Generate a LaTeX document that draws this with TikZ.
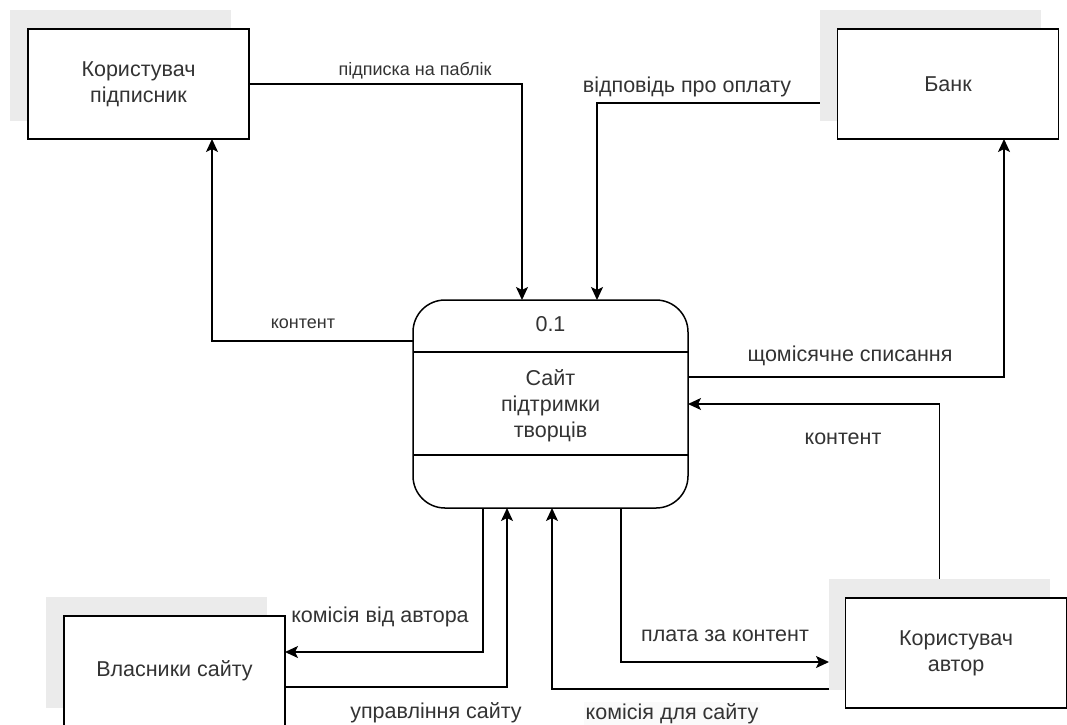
\documentclass[tikz,border=0pt]{standalone}
\usepackage{fontspec}
\setmainfont{Liberation Sans}
\usetikzlibrary{arrows.meta}
\definecolor{shade}{HTML}{EBEBEB}
\definecolor{txt}{HTML}{333333}
\definecolor{lblbg}{HTML}{FAFAFA}
\begin{document}
\begin{tikzpicture}[x=1pt,y=-1pt,
  every node/.style={inner sep=0pt,outer sep=0pt,text=txt},
  ent/.style={draw=black,line width=1.5pt,fill=white,minimum width=221pt,minimum height=110pt,align=center,font=\fontsize{21.5}{26}\selectfont},
  shd/.style={fill=shade,minimum width=221pt,minimum height=111pt},
  proc/.style={draw=black,line width=1.5pt,rounded corners=32pt,minimum width=275pt,minimum height=208pt,fill=white},
  flow/.style={line width=1.5pt,draw=black},
  arr/.style={flow,-{Stealth[length=13pt,width=12pt,inset=3pt]}},
  lbl/.style={font=\fontsize{21.5}{26}\selectfont,align=center},
  slbl/.style={font=\fontsize{18}{22}\selectfont}]
\useasboundingbox (0,0) rectangle (1067,724);
\fill[white] (0,0) rectangle (1067,724);

% shadows
\node[shd] (usershd) at (120.5,65.5) {};
\node[shd] (bankshd) at (930,65.5) {};
\node[shd] (ownshd) at (156.5,652.5) {};
\node[shd] (authshd) at (939.5,634.5) {};

% entities
\node[ent] (user) at (138.5,84) {Користувач\\підписник};
\node[ent] (bank) at (948,84) {Банк};
\node[ent] (owners) at (174.5,671) {Власники сайту};
\node[ent] (author) at (956,653) {Користувач\\автор};

% process
\node[proc] (site) at (550.5,404) {};
\draw[flow] ([yshift=-52pt]site.north west) -- ([yshift=-52pt]site.north east);
\draw[flow] ([yshift=53pt]site.south west) -- ([yshift=53pt]site.south east);
\node[lbl] (pid) at (550.5,324) {0.1};
\node[lbl] (pname) at (550.5,406) {Сайт\\підтримки\\творців};

% flows
\draw[arr] (user.east) -| ([xshift=-28.5pt]site.north);
\draw[arr] ([yshift=18pt]bankshd.south west) -| ([xshift=46.5pt]site.north);
\draw[arr] ([yshift=63pt]site.west) -| ([xshift=73.5pt]user.south);
\draw[arr] ([yshift=27pt]site.east) -| ([xshift=56pt]bank.south);
\draw[arr] (authshd.north) |- (site.east);
\draw[arr] ([xshift=-67.5pt]site.south) |- ([yshift=19pt]owners.east);
\draw[arr] ([yshift=-16pt]owners.east) -| ([xshift=-43.5pt]site.south);
\draw[arr] ([xshift=70.5pt]site.south) |- ([yshift=-27.5pt]authshd.west);
\draw[arr] ([yshift=1pt]authshd.south west) -| ([xshift=1.5pt]site.south);

% labels
\node[slbl] (l1) at (415,71) {підписка на паблік};
\node[lbl] (l2) at (687,87) {відповідь про оплату};
\node[slbl] (l3) at (303,324) {контент};
\node[lbl] (l4) at (850,356) {щомісячне списання};
\node[lbl] (l5) at (843,439) {контент};
\node[lbl] (l6) at (380,617) {комісія від автора};
\node[lbl] (l7) at (436,713) {управління сайту};
\node[lbl] (l8) at (725,636) {плата за контент};
\node[lbl,fill=lblbg,inner sep=2pt] (l9) at (672,714) {комісія для сайту};
\end{tikzpicture}
\end{document}
